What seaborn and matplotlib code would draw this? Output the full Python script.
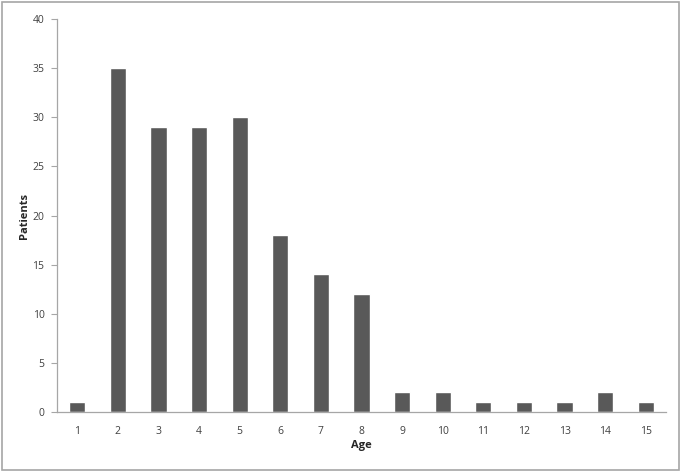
import matplotlib
matplotlib.use("Agg")
import matplotlib.pyplot as plt
import seaborn as sns
import pandas as pd
from matplotlib.patches import Rectangle

ages = [str(a) for a in range(1, 16)]
patients = [1, 35, 29, 29, 30, 18, 14, 12, 2, 2, 1, 1, 1, 2, 1]

df = pd.DataFrame({"Age": ages, "Patients": patients})

sns.set_style("white")
plt.rcParams["font.family"] = ["Open Sans", "DejaVu Sans"]

fig = plt.figure(figsize=(6.82, 4.74), dpi=100)
ax = fig.add_axes([0.0836, 0.1308, 0.893, 0.829])
sns.barplot(data=df, x="Age", y="Patients", color="#595959", width=0.4,
            saturation=1, ax=ax)

ax.set_ylim(0, 40)
ax.set_yticks(range(0, 41, 5))
ax.set_xlim(-0.5, 14.5)
for s in ["top", "right"]:
    ax.spines[s].set_visible(False)
for s in ["left", "bottom"]:
    ax.spines[s].set_color("#a6a6a6")
    ax.spines[s].set_linewidth(0.9)
ax.tick_params(axis="y", length=4, color="#a6a6a6", labelsize=7.5,
               labelcolor="#404040", left=True, direction="out", pad=5)
ax.tick_params(axis="x", length=0, labelsize=7.5, labelcolor="#404040", pad=10)
ax.set_xlabel("Age", fontsize=8, fontweight="bold", labelpad=2)
ax.set_ylabel("Patients", fontsize=8, fontweight="bold", labelpad=2)

fig.patches.append(Rectangle((0.003, 0.008), 0.993, 0.987, transform=fig.transFigure,
                             fill=False, edgecolor="#a6a6a6", linewidth=1.2))

fig.savefig("out.png", dpi=100)
